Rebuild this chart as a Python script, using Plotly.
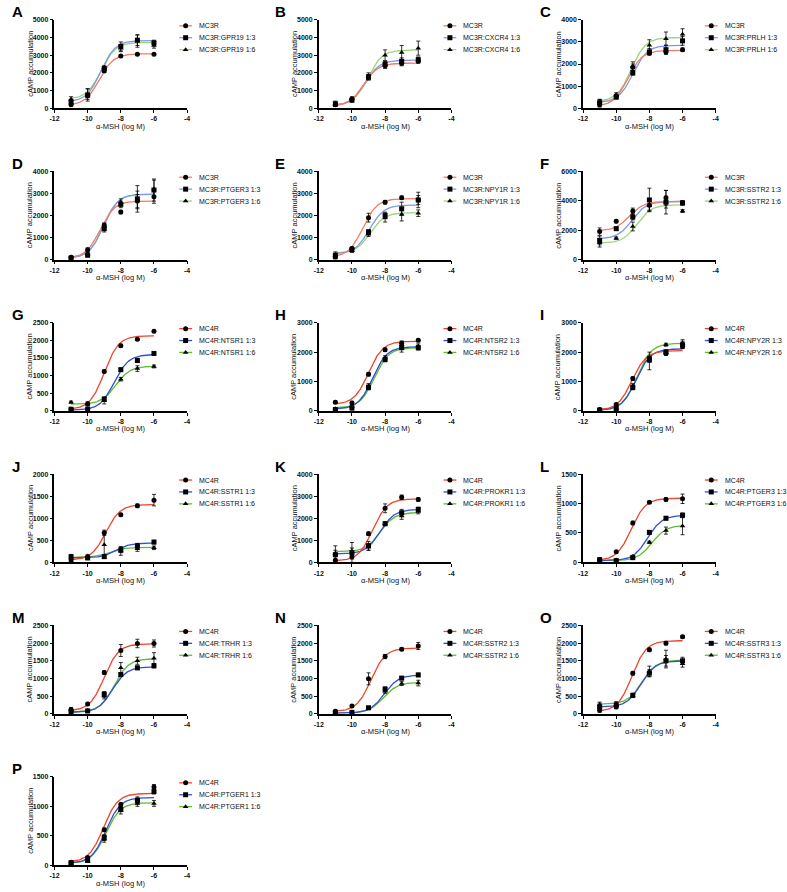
import numpy as np
import plotly.graph_objects as go

# ---------------- data ----------------
X_LOG = [-11, -10, -9, -8, -7, -6]
X_TICKS = [-12, -10, -8, -6, -4]
X_TICK_TEXT = ["-12", "-10", "-8", "-6", "-4"]
PANELS = list("ABCDEFGHIJKLMNOP")
RECEPTOR = ["MC3R"] * 6 + ["MC4R"] * 10
PARTNER = ["GPR19", "CXCR4", "PRLH", "PTGER3", "NPY1R", "SSTR2",
           "NTSR1", "NTSR2", "NPY2R", "SSTR1", "PROKR1", "PTGER3",
           "TRHR", "SSTR2", "SSTR3", "PTGER1"]
RATIOS = ["1:3", "1:6"]
Y_MAX = [5000, 5000, 4000, 4000, 4000, 6000, 2500, 3000, 3000, 2000, 4000, 1500,
         2500, 2500, 2500, 1500]
Y_STEP = [1000, 1000, 1000, 1000, 1000, 2000, 500, 1000, 1000, 500, 1000, 500,
          500, 500, 500, 500]
X_TITLE = "α-MSH (log M)"
Y_TITLE = "cAMP accumulation"

# means (receptor alone, 1:3, 1:6), SEM, and fit [bottom, top, logEC50]
MEAN_A = [[200, 700, 2100, 2950, 3050, 3050], [350, 750, 2250, 3500, 3850, 3700], [500, 800, 2300, 3400, 3800, 3550]]
SEM_A = [[50, 80, 80, 60, 50, 50], [150, 350, 100, 250, 300, 150], [150, 300, 100, 200, 350, 150]]
FIT_A = [[150, 3080, -9.3], [350, 3830, -9.2], [500, 3720, -9.2]]

MEAN_B = [[200, 500, 1800, 2400, 2550, 2650], [250, 450, 1750, 2500, 2650, 2750], [200, 550, 1800, 3000, 3150, 3400]]
SEM_B = [[100, 80, 100, 150, 150, 100], [150, 100, 150, 150, 200, 150], [100, 100, 200, 300, 400, 400]]
FIT_B = [[100, 2550, -9.3], [150, 2720, -9.2], [150, 3300, -9.05]]

MEAN_C = [[150, 550, 1850, 2500, 2550, 2650], [250, 500, 1600, 2550, 2650, 3050], [300, 600, 1900, 2850, 3150, 3350]]
SEM_C = [[100, 80, 150, 80, 100, 80], [150, 80, 100, 150, 200, 200], [100, 100, 200, 250, 300, 250]]
FIT_C = [[80, 2620, -9.3], [250, 2850, -9.0], [300, 3200, -9.1]]

MEAN_D = [[100, 450, 1550, 2150, 2650, 2850], [60, 200, 1400, 2500, 2750, 3150], [100, 250, 1500, 2600, 2700, 3200]]
SEM_D = [[50, 80, 100, 80, 300, 300], [50, 80, 150, 150, 600, 500], [50, 80, 150, 150, 400, 400]]
FIT_D = [[60, 2650, -9.25], [60, 2970, -9.05], [60, 2960, -9.05]]

MEAN_E = [[150, 500, 1900, 2600, 2800, 2700], [200, 450, 1250, 2000, 2300, 2700], [100, 400, 1150, 1900, 2050, 2100]]
SEM_E = [[100, 80, 200, 80, 80, 200], [150, 80, 100, 150, 300, 350], [100, 80, 100, 200, 300, 150]]
FIT_E = [[100, 2760, -9.35], [250, 2470, -8.95], [280, 2130, -8.9]]

MEAN_F = [[1900, 2600, 3300, 3700, 4200, 3850], [1300, 2100, 2900, 4050, 3900, 3850], [1150, 1450, 2250, 3650, 3900, 3300]]
SEM_F = [[250, 100, 200, 400, 500, 100], [300, 100, 200, 800, 800, 150], [300, 80, 300, 300, 400, 100]]
FIT_F = [[1950, 3950, -9.2], [1400, 3950, -9.05], [1100, 3720, -8.75]]

MEAN_G = [[50, 200, 1120, 1850, 2030, 2260], [50, 50, 330, 1170, 1430, 1630], [250, 200, 300, 900, 1200, 1260]]
SEM_G = [[30, 40, 40, 40, 30, 30], [30, 30, 60, 40, 60, 50], [30, 60, 100, 50, 80, 40]]
FIT_G = [[40, 2130, -9.0], [20, 1600, -8.4], [190, 1270, -8.3]]

MEAN_H = [[300, 270, 1250, 2080, 2300, 2400], [50, 100, 800, 1750, 2150, 2150], [80, 150, 850, 1800, 2250, 2200]]
SEM_H = [[40, 60, 60, 60, 80, 50], [30, 60, 80, 80, 150, 80], [30, 60, 80, 80, 100, 80]]
FIT_H = [[220, 2370, -9.0], [60, 2180, -8.75], [100, 2150, -8.65]]

MEAN_I = [[50, 220, 1100, 1800, 1950, 2200], [30, 80, 800, 1750, 2000, 2250], [40, 100, 850, 1700, 2250, 2300]]
SEM_I = [[30, 40, 60, 60, 60, 80], [30, 40, 80, 100, 80, 120], [30, 40, 80, 300, 50, 120]]
FIT_I = [[20, 2050, -9.05], [20, 2110, -8.8], [30, 2300, -8.75]]

MEAN_J = [[60, 110, 670, 1080, 1280, 1410], [130, 100, 130, 280, 370, 460], [30, 140, 400, 260, 310, 330]]
SEM_J = [[40, 40, 60, 30, 40, 130], [50, 30, 40, 60, 60, 40], [30, 40, 270, 100, 60, 40]]
FIT_J = [[50, 1310, -8.9], [100, 440, -8.3], [110, 340, -8.7]]

MEAN_K = [[100, 250, 1300, 2450, 2950, 2850], [350, 450, 750, 1750, 2250, 2400], [400, 500, 700, 1750, 2100, 2300]]
SEM_K = [[50, 100, 80, 200, 100, 80], [400, 450, 200, 80, 150, 100], [150, 150, 150, 80, 150, 100]]
FIT_K = [[60, 2880, -8.75], [380, 2400, -8.3], [480, 2260, -8.3]]

MEAN_L = [[50, 180, 670, 1020, 1070, 1080], [40, 30, 80, 510, 750, 800], [30, 40, 100, 340, 540, 620]]
SEM_L = [[30, 20, 30, 20, 30, 80], [30, 20, 30, 30, 30, 40], [20, 20, 20, 20, 60, 150]]
FIT_L = [[30, 1090, -9.1], [30, 800, -8.1], [30, 630, -7.85]]

MEAN_M = [[120, 280, 1170, 1790, 1990, 1990], [60, 80, 550, 1110, 1300, 1360], [110, 90, 500, 1300, 1500, 1570]]
SEM_M = [[60, 40, 50, 170, 120, 100], [40, 40, 80, 50, 50, 60], [40, 40, 80, 150, 100, 160]]
FIT_M = [[80, 1980, -9.0], [40, 1330, -8.5], [40, 1560, -8.4]]

MEAN_N = [[70, 220, 990, 1620, 1830, 1920], [30, 40, 170, 700, 1010, 1100], [40, 40, 160, 640, 860, 870]]
SEM_N = [[40, 30, 170, 60, 40, 100], [30, 20, 40, 60, 40, 50], [30, 20, 40, 60, 60, 80]]
FIT_N = [[60, 1860, -8.85], [20, 1100, -8.05], [20, 890, -8.1]]

MEAN_O = [[100, 200, 1150, 1810, 2000, 2180], [200, 250, 520, 1150, 1500, 1500], [250, 260, 520, 1200, 1550, 1420]]
SEM_O = [[60, 60, 50, 50, 50, 40], [100, 80, 60, 100, 150, 100], [80, 80, 60, 150, 250, 100]]
FIT_O = [[60, 2070, -9.05], [190, 1500, -8.5], [270, 1520, -8.45]]

MEAN_P = [[50, 130, 600, 1030, 1100, 1330], [40, 80, 470, 950, 1100, 1250], [30, 70, 440, 930, 1050, 1050]]
SEM_P = [[20, 20, 30, 30, 40, 40], [20, 20, 50, 40, 60, 40], [20, 20, 50, 60, 50, 50]]
FIT_P = [[50, 1220, -9.05], [30, 1150, -8.9], [30, 1060, -8.9]]

MEANS = [MEAN_A, MEAN_B, MEAN_C, MEAN_D, MEAN_E, MEAN_F, MEAN_G, MEAN_H,
         MEAN_I, MEAN_J, MEAN_K, MEAN_L, MEAN_M, MEAN_N, MEAN_O, MEAN_P]
SEMS = [SEM_A, SEM_B, SEM_C, SEM_D, SEM_E, SEM_F, SEM_G, SEM_H,
        SEM_I, SEM_J, SEM_K, SEM_L, SEM_M, SEM_N, SEM_O, SEM_P]
FITS = [FIT_A, FIT_B, FIT_C, FIT_D, FIT_E, FIT_F, FIT_G, FIT_H,
        FIT_I, FIT_J, FIT_K, FIT_L, FIT_M, FIT_N, FIT_O, FIT_P]

# ---------------- style / layout ----------------
W, H = 787, 892
COL_X = [50, 317, 584]
LEG_DX = [144, 144, 141]
PLOT_W = 134
ROW_Y0 = 16
ROW_PITCH = 152.6
PLOT_H = 89
COLORS_LIGHT = ["#F27C62", "#7F98EA", "#9DD47C"]
COLORS_DARK = ["#F0432B", "#2F4FD6", "#5DBF2E"]
SYMBOLS = ["circle", "square", "triangle-up"]
FONT = "Liberation Sans, Arial, sans-serif"
TXT = "#111111"

fig = go.Figure()
layout = dict(width=W, height=H, margin=dict(l=0, r=0, t=0, b=0),
              paper_bgcolor="white", plot_bgcolor="rgba(0,0,0,0)", showlegend=False,
              font=dict(family=FONT, color=TXT))
annotations = []

x_fit = np.linspace(X_LOG[0], X_LOG[-1], 151)
OV = dict(xaxis="x17", yaxis="y17")

for i, letter in enumerate(PANELS):
    r, c = divmod(i, 3)
    left = COL_X[c]
    top = ROW_Y0 + r * ROW_PITCH
    bottom = top + PLOT_H
    sfx = "" if i == 0 else str(i + 1)
    xa, ya = "x" + sfx, "y" + sfx
    layout["xaxis" + sfx] = dict(
        domain=[left / W, (left + PLOT_W) / W], range=[-12, -4], anchor=ya,
        tickvals=X_TICKS, ticktext=X_TICK_TEXT, showline=True, linecolor="black",
        linewidth=1.5, ticks="outside", ticklen=3, tickwidth=1.2, tickcolor="black",
        tickfont=dict(family=FONT, size=7, color=TXT, weight="bold"),
        showgrid=False, zeroline=False)
    layout["yaxis" + sfx] = dict(
        domain=[1 - bottom / H, 1 - top / H], range=[0, Y_MAX[i]], anchor=xa,
        tick0=0, dtick=Y_STEP[i], showline=True, linecolor="black",
        linewidth=1.5, ticks="outside", ticklen=3, tickwidth=1.2, tickcolor="black",
        tickfont=dict(family=FONT, size=7, color=TXT, weight="bold"),
        showgrid=False, zeroline=False)

    colors = COLORS_LIGHT if i < 6 else COLORS_DARK
    labels = [RECEPTOR[i]] + [f"{RECEPTOR[i]}:{PARTNER[i]} {rt}" for rt in RATIOS]

    # fitted curves
    for k in [2, 1, 0]:
        b, t, ec = FITS[i][k]
        y_fit = b + (t - b) / (1 + 10 ** (ec - x_fit))
        fig.add_trace(go.Scatter(x=x_fit, y=y_fit, mode="lines", xaxis=xa, yaxis=ya,
                                 line=dict(color=colors[k], width=1.3),
                                 hoverinfo="skip"))
    # data points
    for k in [2, 1, 0]:
        fig.add_trace(go.Scatter(
            x=X_LOG, y=MEANS[i][k], mode="markers", xaxis=xa, yaxis=ya,
            marker=dict(symbol=SYMBOLS[k], size=5, color="black"),
            error_y=dict(type="data", array=SEMS[i][k], color="black",
                         thickness=0.8, width=2),
            cliponaxis=False, name=labels[k]))

    # legend (drawn in pixel overlay)
    dx = LEG_DX[c]
    for k in range(3):
        ly = top + 6 + 12 * k
        lx0, lx1 = left + dx - 18, left + dx - 5
        fig.add_trace(go.Scatter(x=[lx0, lx1], y=[ly, ly], mode="lines", **OV,
                                 line=dict(color=colors[k], width=1.3), hoverinfo="skip"))
        fig.add_trace(go.Scatter(x=[(lx0 + lx1) / 2], y=[ly], mode="markers", **OV,
                                 marker=dict(symbol=SYMBOLS[k], size=5, color="black"),
                                 hoverinfo="skip"))
        annotations.append(dict(x=left + dx, y=ly, xref="x17", yref="y17",
                                text=labels[k], showarrow=False, xanchor="left",
                                yanchor="middle", font=dict(family=FONT, size=7, color=TXT)))

    # panel letter
    annotations.append(dict(x=left - 45 + (0 if c == 0 else -1), y=top - 8, xref="x17", yref="y17",
                            text=f"<b>{letter}</b>", showarrow=False, xanchor="left",
                            yanchor="middle", font=dict(family=FONT, size=15, color="black")))
    # axis titles
    annotations.append(dict(x=left + PLOT_W / 2, y=bottom + 18, xref="x17", yref="y17",
                            text=X_TITLE, showarrow=False, xanchor="center", yanchor="middle",
                            font=dict(family=FONT, size=7.5, color=TXT)))
    annotations.append(dict(x=left - 25, y=top + PLOT_H / 2, xref="x17", yref="y17",
                            text=Y_TITLE, showarrow=False, textangle=-90,
                            xanchor="center", yanchor="middle",
                            font=dict(family=FONT, size=7.5, color=TXT)))

layout["xaxis17"] = dict(domain=[0, 1], range=[0, W], visible=False, anchor="y17",
                         fixedrange=True)
layout["yaxis17"] = dict(domain=[0, 1], range=[H, 0], visible=False, anchor="x17",
                         fixedrange=True)
layout["annotations"] = annotations
fig.update_layout(**layout)
fig.write_html("out.html", config={"displayModeBar": False},
               post_script="document.body.style.margin='0';document.body.style.overflow='hidden';")
